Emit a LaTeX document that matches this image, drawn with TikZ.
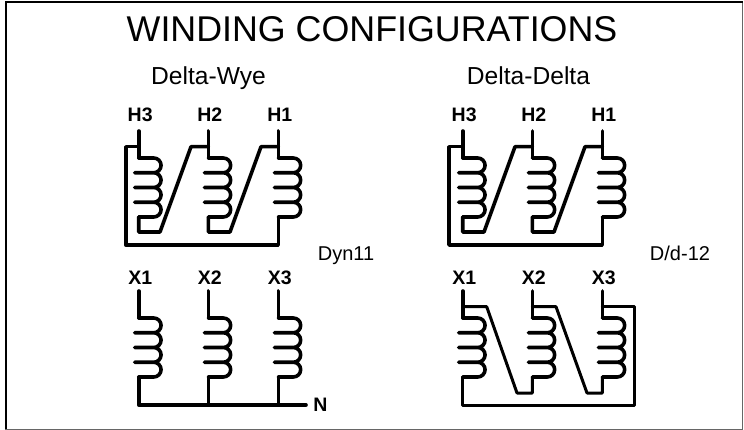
\documentclass[tikz,border=0pt]{standalone}
\usepackage{fontspec}
\setmainfont{Liberation Sans}
\usetikzlibrary{positioning}
\tikzset{
  wire/.style={line width=3.6pt, line join=round, line cap=round},
  thinwire/.style={line width=3pt, line join=round, line cap=round},
  term/.style={font=\bfseries\fontsize{19.5}{19.5}\selectfont, inner sep=0pt, anchor=base},
  note/.style={font=\fontsize{20}{20}\selectfont, inner sep=0pt, anchor=base},
  head/.style={font=\fontsize{24.6}{24.6}\selectfont, inner sep=0pt, anchor=base},
  pics/coil/.style={code={
    \coordinate (-top) at (0,0);
    \coordinate (-bot) at (0,59);
    \draw[wire] (0,0) -- (15,0)
      arc[start angle=-90, end angle=90, radius=7.375] -- ++(-19,0) -- ++(19,0)
      arc[start angle=-90, end angle=90, radius=7.375] -- ++(-19,0) -- ++(19,0)
      arc[start angle=-90, end angle=90, radius=7.375] -- ++(-19,0) -- ++(19,0)
      arc[start angle=-90, end angle=90, radius=7.375] -- (0,59);
  }}
}
\begin{document}
\begin{tikzpicture}[x=1pt,y=-1pt]
\useasboundingbox (0,0) rectangle (744,430);
\coordinate (framea) at (5.5,2.5);
\coordinate (frameb) at (742.7,429);
\draw[line width=1pt, black!60] (framea) rectangle (frameb);
\draw[line width=2pt] (framea |- frameb) -- (framea) -- (framea -| frameb);
\node[inner sep=0pt, font=\fontsize{35.8}{36}\selectfont, anchor=base] (title) at (372,41.5) {WINDING CONFIGURATIONS};
\node[head] (dwye) at (208.5,84.3) {Delta-Wye};
\node[head] (ddelta) at (528.5,84.3) {Delta-Delta};
\node[note] (dyn) at (346,261) {Dyn11};
\node[note] (dd) at (680,261) {D/d-12};
% delta-wye, upper
\foreach \nm/\txt/\xx in {a/H3/138.7, b/H2/208.3, c/H1/278.3} {
  \coordinate (\nm-up) at (\xx,131);
  \node[term] (\nm-lab) at (\xx+1.5,122) {\txt};
  \pic (\nm-coil) at (\xx,158) {coil};
  \draw[wire] (\nm-up) -- (\nm-coil-top);
}
\coordinate (abar) at (125.7,146.7);
\coordinate (bbar) at (191,146.7);
\coordinate (cbar) at (261,146.7);
\coordinate (afoot) at (160,232);
\coordinate (bfoot) at (230,232);
\coordinate (busa) at (125.7,245);
\coordinate (busc) at (278.3,245);
\draw[wire] (a-up |- abar) -- (abar) -- (busa) -- (busc) -- (c-coil-bot);
\draw[wire] (a-coil-bot) -- (a-coil-bot |- afoot) -- (afoot) -- (bbar) -- (b-up |- bbar);
\draw[wire] (b-coil-bot) -- (b-coil-bot |- bfoot) -- (bfoot) -- (cbar) -- (c-up |- cbar);
% delta-delta, upper
\foreach \nm/\txt/\xx in {d/H3/462.7, e/H2/532.3, f/H1/602.3} {
  \coordinate (\nm-up) at (\xx,131);
  \node[term] (\nm-lab) at (\xx+1.5,122) {\txt};
  \pic (\nm-coil) at (\xx,158) {coil};
  \draw[wire] (\nm-up) -- (\nm-coil-top);
}
\coordinate (dbar) at (449,146.7);
\coordinate (ebar) at (515,146.7);
\coordinate (fbar) at (585,146.7);
\coordinate (dfoot) at (484,232);
\coordinate (efoot) at (554,232);
\coordinate (busd) at (449,245);
\coordinate (busf) at (602.3,245);
\draw[wire] (d-up |- dbar) -- (dbar) -- (busd) -- (busf) -- (f-coil-bot);
\draw[wire] (d-coil-bot) -- (d-coil-bot |- dfoot) -- (dfoot) -- (ebar) -- (e-up |- ebar);
\draw[wire] (e-coil-bot) -- (e-coil-bot |- efoot) -- (efoot) -- (fbar) -- (f-up |- fbar);
% delta-wye, lower
\foreach \nm/\txt/\xx in {g/X1/138.7, h/X2/208.3, i/X3/278.3} {
  \coordinate (\nm-up) at (\xx,291);
  \node[term] (\nm-lab) at (\xx+1.5,284) {\txt};
  \pic (\nm-coil) at (\xx,318) {coil};
  \draw[wire] (\nm-up) -- (\nm-coil-top);
}
\coordinate (nend) at (306,405);
\node[term] (nlab) at (320.5,411.7) {N};
\draw[wire] (g-coil-bot) -- (g-coil-bot |- nend) -- (nend);
\draw[wire] (h-coil-bot) -- (h-coil-bot |- nend);
\draw[wire] (i-coil-bot) -- (i-coil-bot |- nend);
% delta-delta, lower
\foreach \nm/\txt/\xx in {j/X1/462.7, k/X2/532.3, l/X3/602.3} {
  \coordinate (\nm-up) at (\xx,291);
  \node[term] (\nm-lab) at (\xx+1.5,284) {\txt};
  \pic (\nm-coil) at (\xx,318) {coil};
  \draw[wire] (\nm-up) -- (\nm-coil-top);
}
\coordinate (jbar) at (486.7,306.7);
\coordinate (kbar) at (556,306.7);
\coordinate (lbar) at (634,306.7);
\coordinate (jfoot) at (517,393);
\coordinate (kfoot) at (587,393);
\coordinate (busl) at (634,405);
\draw[thinwire] (j-up |- jbar) -- (jbar) -- (jfoot) -- (k-up |- jfoot) -- (k-coil-bot);
\draw[thinwire] (k-up |- kbar) -- (kbar) -- (kfoot) -- (l-up |- kfoot) -- (l-coil-bot);
\draw[thinwire] (l-up |- lbar) -- (lbar) -- (busl) -- (j-up |- busl) -- (j-coil-bot);
\end{tikzpicture}
\end{document}
